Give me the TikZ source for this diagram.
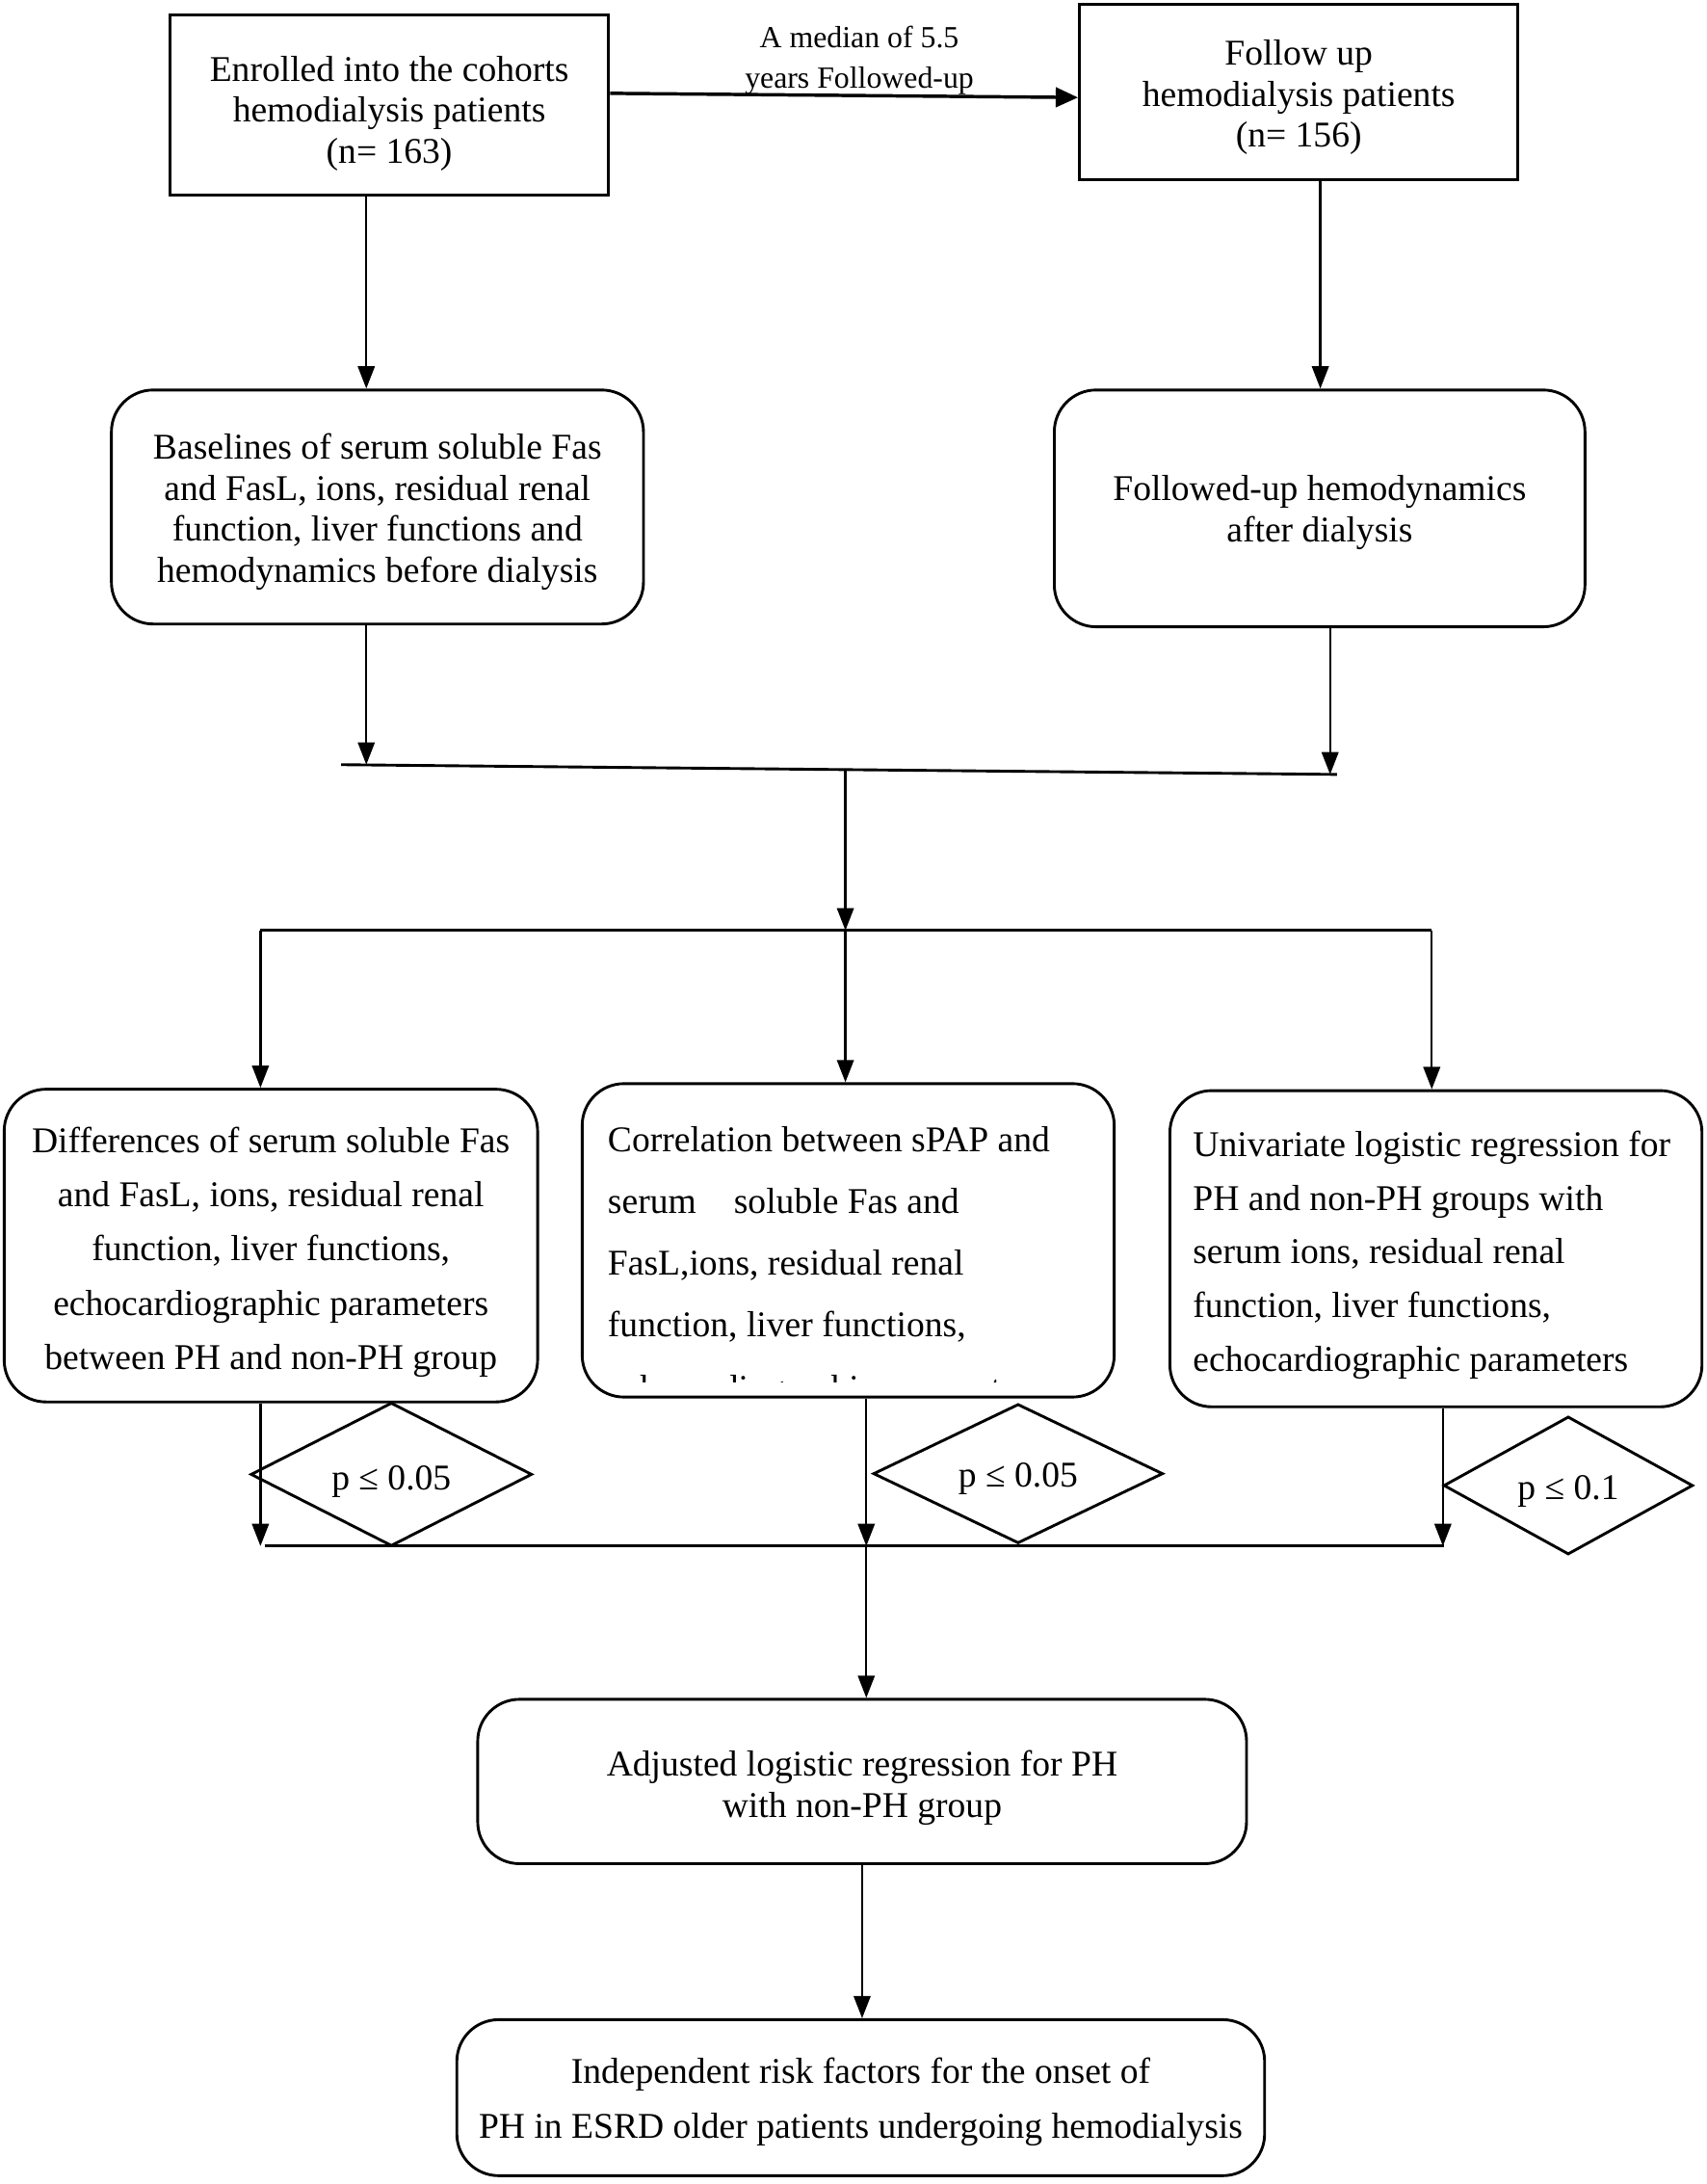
\documentclass[tikz,border=0pt]{standalone}
\usepackage{fontspec}
\setmainfont{Liberation Serif}
\usetikzlibrary{shapes.geometric,arrows.meta}
\begin{document}
\begin{tikzpicture}[x=0.5pt,y=-0.5pt,
  fs/.style={font=\fontsize{13pt}{#1}\selectfont},
  box/.style={draw,line width=1pt,inner sep=0pt},
  rbox/.style={box,rounded corners=15pt},
  tx/.style={inner sep=0pt,align=center},
  dia/.style={draw,diamond,line width=1pt,inner sep=0pt},
  ln/.style={line width=1pt},
  arr/.style={line width=0.8pt,-{Triangle[length=8pt,width=6pt]}},
  lbl/.style={inner sep=0pt,align=center,font=\fontsize{11pt}{14.5pt}\selectfont}]
\fill[white] (0,0) rectangle (1225.3,1568);
\useasboundingbox (0,0) rectangle (1225.3,1568);

% boxes
\node[box,minimum width=157.5pt,minimum height=64.5pt] (A) at (279.5,75.5) {};
\node[tx,fs=14.75pt] (At) at ([yshift=-3pt]A.center)
  {Enrolled into the cohorts\\hemodialysis patients\\(n= 163)};
\node[box,minimum width=157.5pt,minimum height=63pt] (B) at (932.5,66) {};
\node[tx,fs=14.75pt] (Bt) at ([yshift=-2pt]B.center)
  {Follow up\\hemodialysis patients\\(n= 156)};
\node[rbox,minimum width=191pt,minimum height=84pt] (C) at (271,364) {};
\node[tx,fs=14.67pt] (Ct) at ([yshift=-1.75pt]C.center)
  {Baselines of serum soluble Fas\\and FasL, ions, residual renal\\function, liver functions and\\hemodynamics before dialysis};
\node[rbox,minimum width=190.5pt,minimum height=85pt] (D) at (947.5,365) {};
\node[tx,fs=14.67pt] (Dt) at ([yshift=-1.5pt]D.center)
  {Followed-up hemodynamics\\after dialysis};
\node[rbox,minimum width=191.5pt,minimum height=112.25pt] (E) at (194.5,894.25) {};
\node[tx,fs=19.4pt] (Et) at ([yshift=-2.375pt]E.center)
  {Differences of serum soluble Fas\\and FasL, ions, residual renal\\function, liver functions,\\echocardiographic parameters\\between PH and non-PH group};
\node[rbox,minimum width=191pt,minimum height=112.5pt] (F) at (609,890.5) {};
\node[inner sep=0pt,align=left,fs=22.1pt,anchor=north west] (Ft) at (436,808.5)
  {Correlation between sPAP and\\serum\hspace{13.5pt}soluble Fas and\\FasL,ions, residual renal\\function, liver functions,};
\begin{scope}
  \clip (418,960) rectangle (800,992.5);
  \node[inner sep=0pt,fs=22.1pt,anchor=base west] (Fc) at (436,1005.5) {echocardiographic parameters};
\end{scope}
\node[rbox,minimum width=191pt,minimum height=113.5pt] (G) at (1031,896.5) {};
\node[tx,align=left,fs=19.25pt] (Gt) at ([xshift=-1.5pt,yshift=-2.25pt]G.center)
  {Univariate logistic regression for\\PH and non-PH groups with\\serum ions, residual renal\\function, liver functions,\\echocardiographic parameters};
\node[rbox,minimum width=276pt,minimum height=59pt] (H) at (619,1279) {};
\node[tx,fs=15pt] (Ht) at ([yshift=-2.25pt]H.center)
  {Adjusted logistic regression for PH\\with non-PH group};
\node[rbox,minimum width=290pt,minimum height=56pt] (I) at (618,1506) {};
\node[tx,fs=19.5pt] (It) at ([yshift=-1.5pt]I.center)
  {Independent risk factors for the onset of\\PH in ESRD older patients undergoing hemodialysis};

% diamonds
\node[dia,minimum width=101pt,minimum height=51.5pt] (P1) at (281,1058.5) {};
\node[tx,fs=15pt] (P1t) at ([yshift=-2.5pt]P1.center) {p ≤ 0.05};
\node[dia,minimum width=104pt,minimum height=50pt] (P2) at (731,1058) {};
\node[tx,fs=15pt] (P2t) at ([yshift=-2pt]P2.center) {p ≤ 0.05};
\node[dia,minimum width=89.5pt,minimum height=49.5pt] (P3) at (1126,1066.5) {};
\node[tx,fs=15pt] (P3t) at ([yshift=-2pt]P3.center) {p ≤ 0.1};

% top connector
\draw[line width=1.2pt,-{Triangle[length=8pt,width=7pt]}] ([yshift=4.25pt]A.east) -- ([yshift=-2pt]B.west);
\node[lbl] (L) at (617,43.5) {A median of 5.5\\years Followed-up};

\draw[arr] ([xshift=-8.25pt]A.south) -- ([xshift=-8.25pt]A.south |- C.north);
\draw[arr] ([xshift=7.75pt]B.south) -- ([xshift=7.75pt]B.south |- D.north);

% first junction
\coordinate (j1a) at (245,549);
\coordinate (j1b) at (960,556);
\coordinate (j1m) at (607,552.5);
\coordinate (j2m) at (607,668);
\coordinate (j2a) at (187,668);
\coordinate (j2b) at (1028,668);
\draw[ln] (j1a) -- (j1b);
\draw[arr] ([xshift=-4pt]C.south) -- ([xshift=-4pt]C.south |- j1a);
\draw[arr] ([xshift=3.75pt]D.south) -- ([xshift=3.75pt]D.south |- j1b);
\draw[arr] (j1m) -- (j2m);
\draw[ln] (j2a) -- (j2b);
\draw[arr] (j2a) -- (j2a |- E.north);
\draw[arr] (j2m) -- (j2m |- F.north);
\draw[arr] (j2b) -- (j2b |- G.north);

% second junction
\coordinate (j3a) at (190,1110);
\coordinate (j3b) at (1037,1110);
\coordinate (j3m) at (622,1110);
\draw[ln] (j3a) -- (j3b);
\draw[arr] ([xshift=-3.75pt]E.south) -- ([xshift=-3.75pt]E.south |- j3a);
\draw[arr] ([xshift=6.5pt]F.south) -- ([xshift=6.5pt]F.south |- j3a);
\draw[arr] ([xshift=2.5pt]G.south) -- ([xshift=2.5pt]G.south |- j3a);
\draw[arr] (j3m) -- (j3m |- H.north);
\draw[arr] (H.south) -- (H.south |- I.north);
\end{tikzpicture}
\end{document}
